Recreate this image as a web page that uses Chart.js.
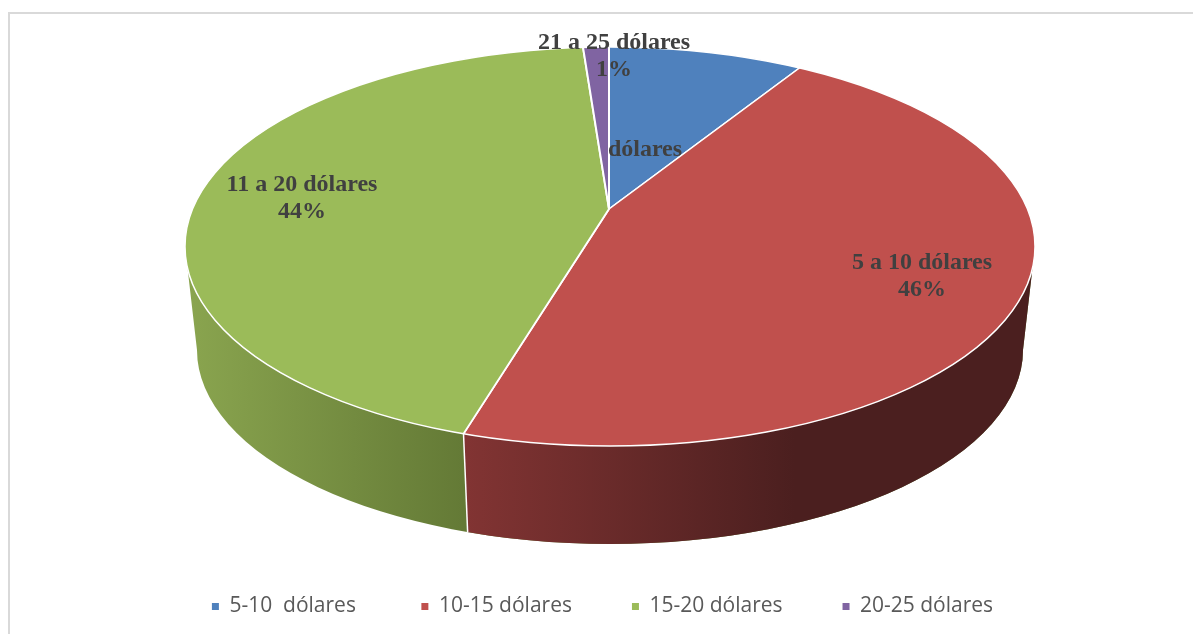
<!DOCTYPE html>
<html lang="es">
<head>
<meta charset="utf-8">
<title>Gasto en dólares</title>
<script src="https://cdn.jsdelivr.net/npm/chart.js@4"></script>
<style>
  html, body { margin: 0; height: 100%; background: #fff; overflow: hidden; }
  #frame { position: absolute; left: 8px; top: 12px; right: 0; height: 640px; border-left: 2px solid #d9d9d9; border-top: 2px solid #d9d9d9; }
  #wrap { position: absolute; left: 0; top: 0; width: 1193px; height: 634px; }
</style>
</head>
<body>
<div id="frame"></div>
<div id="wrap"><canvas id="pie"></canvas></div>
<script>
const categories = ["5-10  dólares\u00a0", "10-15 dólares", "15-20 dólares", "20-25 dólares"];
const shares = [9, 45.7, 44.1, 1.2];
const sliceColors = ["#4f81bd", "#c0504d", "#9bbb59", "#8064a2"];
const sliceLabels = [["dólares"], ["5 a 10 dólares", "46%"], ["11 a 20 dólares", "44%"], ["21 a 25 dólares", "1%"]];
const labelSpots = [[645, 150], [922, 263], [302, 185], [614, 43]];

// fake 3d: top face is a squashed pie cut off by an off-centre ellipse
const apex = { x: 609, y: 209 };
const squash = 0.47;
const topFace = { x: 610, y: 246.5, rx: 425, ry: 199.5 };
const bottomFace = { x: 610, y: 350, rx: 413, ry: 194 };

function rimPoint(angle) {
  const dx = Math.cos(angle), dy = Math.sin(angle) * squash;
  const ox = (apex.x - topFace.x) / topFace.rx, oy = (apex.y - topFace.y) / topFace.ry;
  const px = dx / topFace.rx, py = dy / topFace.ry;
  const a = px * px + py * py, b = 2 * (ox * px + oy * py), c = ox * ox + oy * oy - 1;
  const t = (-b + Math.sqrt(b * b - 4 * a * c)) / (2 * a);
  return { x: apex.x + dx * t, y: apex.y + dy * t };
}

function wallPath(ctx) {
  const edge = 0.11;
  ctx.beginPath();
  ctx.ellipse(bottomFace.x, bottomFace.y, bottomFace.rx, bottomFace.ry, 0, Math.PI, 0, true);
  ctx.ellipse(topFace.x, topFace.y, topFace.rx, topFace.ry, 0, edge, Math.PI - edge, false);
  ctx.closePath();
}

const tilt = {
  id: "tilt",
  beforeDatasetsDraw(chart) {
    const ctx = chart.ctx;
    const arcs = chart.getDatasetMeta(0).data;
    const top = rimPoint(arcs[1].endAngle);
    const bottom = {
      x: bottomFace.x + (top.x - topFace.x) * bottomFace.rx / topFace.rx,
      y: bottomFace.y + (top.y - topFace.y) * bottomFace.ry / topFace.ry
    };

    const greenWall = ctx.createLinearGradient(topFace.x - topFace.rx, 0, top.x, 0);
    greenWall.addColorStop(0, "#8aa54f");
    greenWall.addColorStop(1, "#647a36");
    ctx.save();
    wallPath(ctx);
    ctx.fillStyle = greenWall;
    ctx.fill();
    ctx.restore();

    const redWall = ctx.createLinearGradient(top.x, 0, 795, 0);
    redWall.addColorStop(0, "#823433");
    redWall.addColorStop(1, "#4b1f1f");
    ctx.save();
    ctx.beginPath();
    ctx.moveTo(top.x, top.y - 40);
    ctx.lineTo(top.x, top.y);
    ctx.lineTo(bottom.x, bottom.y);
    ctx.lineTo(bottom.x, bottom.y + 40);
    ctx.lineTo(1193, bottom.y + 40);
    ctx.lineTo(1193, top.y - 300);
    ctx.closePath();
    ctx.clip();
    wallPath(ctx);
    ctx.fillStyle = redWall;
    ctx.fill();
    ctx.restore();

    ctx.save();
    ctx.strokeStyle = "#fff";
    ctx.lineWidth = 1.5;
    ctx.beginPath();
    ctx.moveTo(top.x, top.y);
    ctx.lineTo(bottom.x, bottom.y);
    ctx.stroke();
    ctx.restore();

    ctx.save();
    ctx.beginPath();
    ctx.ellipse(topFace.x, topFace.y, topFace.rx, topFace.ry, 0, 0, Math.PI * 2);
    ctx.clip();
    ctx.translate(apex.x, apex.y);
    ctx.scale(1, squash);
    ctx.translate(-arcs[0].x, -arcs[0].y);
  },
  afterDatasetsDraw(chart) {
    const ctx = chart.ctx;
    ctx.restore();
    ctx.save();
    ctx.strokeStyle = "#fff";
    ctx.lineWidth = 1.5;
    ctx.beginPath();
    ctx.ellipse(topFace.x, topFace.y, topFace.rx, topFace.ry, 0, 0, Math.PI * 2);
    ctx.stroke();
    ctx.fillStyle = "#404040";
    ctx.font = "bold 24px 'Liberation Serif'";
    ctx.textAlign = "center";
    ctx.textBaseline = "middle";
    sliceLabels.forEach((lines, i) => {
      lines.forEach((line, n) => ctx.fillText(line, labelSpots[i][0], labelSpots[i][1] + n * 27));
    });
    ctx.restore();
  }
};

new Chart(document.querySelector("#pie"), {
  type: "pie",
  data: {
    labels: categories,
    datasets: [{ data: shares, backgroundColor: sliceColors, borderColor: "#fff", borderWidth: 2, clip: false }]
  },
  options: {
    responsive: true,
    maintainAspectRatio: false,
    animation: false,
    events: [],
    radius: 1400,
    layout: { padding: { left: 12, bottom: 7 } },
    plugins: {
      tooltip: { enabled: false },
      legend: {
        position: "bottom",
        labels: {
          boxWidth: 7,
          boxHeight: 7,
          padding: 60,
          color: "#595959",
          font: { family: "'Open Sans'", size: 21 },
          generateLabels: (chart) => Chart.overrides.pie.plugins.legend.labels.generateLabels(chart).map((item) => ({ ...item, lineWidth: 0 }))
        }
      }
    }
  },
  plugins: [tilt]
});
</script>
</body>
</html>
